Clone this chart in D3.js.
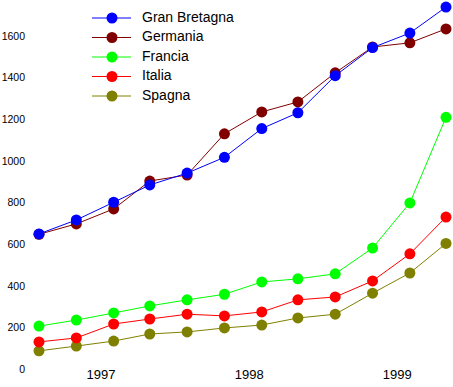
<!DOCTYPE html>
<html>
<head>
<meta charset="utf-8">
<script src="https://cdn.jsdelivr.net/npm/d3@7"></script>
<style>
  body { margin: 0; background: #fff; }
  text { font-family: Arial, "Liberation Sans", sans-serif; fill: #000; }
</style>
</head>
<body>
<div class="chart"></div>
<script>
// quarterly points, first one Aug 1996
const dates = ['1996-08-01', '1996-11-01', '1997-02-01', '1997-05-01', '1997-08-01', '1997-11-01',
               '1998-02-01', '1998-05-01', '1998-08-01', '1998-11-01', '1999-02-01', '1999-05-01'];
const yearTicks = ['1997-01-01', '1998-01-01', '1999-01-01'];
const yTicks = [0, 200, 400, 600, 800, 1000, 1200, 1400, 1600];

const seriesNames = ['Gran Bretagna', 'Germania', 'Francia', 'Italia', 'Spagna'];
const seriesColors = ['#0000ff', '#800000', '#00ff00', '#ff0000', '#808000'];

const granBretagna = [654, 721, 806, 889, 946, 1022, 1160, 1236, 1414, 1549, 1619, 1744];
const germania = [652, 702, 774, 908, 937, 1135, 1240, 1288, 1428, 1552, 1572, 1639];
const francia = [211, 240, 274, 308, 337, 364, 423, 438, 462, 586, 803, 1214];
const italia = [135, 154, 221, 245, 268, 260, 279, 337, 351, 428, 558, 735];
const spagna = [92, 115, 139, 173, 183, 202, 216, 250, 268, 369, 466, 608];

const seriesValues = [granBretagna, germania, francia, italia, spagna];

const parse = d3.timeParse('%Y-%m-%d');

const svg = d3.select('.chart')
    .append('svg')
    .attr('width', 453)
    .attr('height', 387);

const x = d3.scaleTime()
    .domain([parse(dates[0]), parse(dates[dates.length - 1])])
    .range([39, 446]);

const y = d3.scaleLinear()
    .domain([0, 1600])
    .range([370, 37]);

// y tick labels, no axis line
svg.append('g')
    .selectAll('text')
    .data(yTicks)
    .join('text')
    .attr('x', 25)
    .attr('y', d => y(d))
    .attr('text-anchor', 'end')
    .attr('dominant-baseline', 'middle')
    .style('font-size', '10.5px')
    .text(d => d);

// year labels
svg.append('g')
    .selectAll('text')
    .data(yearTicks)
    .join('text')
    .attr('x', d => x(parse(d)))
    .attr('y', 376)
    .attr('text-anchor', 'middle')
    .attr('dominant-baseline', 'middle')
    .style('font-size', '13px')
    .text(d => d.slice(0, 4));

const line = d3.line()
    .x((d, i) => x(parse(dates[i])))
    .y(d => y(d));

// draw last series first so Gran Bretagna ends up on top
const order = d3.range(seriesNames.length).reverse();

order.forEach(k => {
    const g = svg.append('g');
    g.append('path')
        .attr('d', line(seriesValues[k]))
        .attr('fill', 'none')
        .attr('stroke', seriesColors[k])
        .attr('stroke-width', 1);
    g.selectAll('circle')
        .data(seriesValues[k])
        .join('circle')
        .attr('cx', (d, i) => x(parse(dates[i])))
        .attr('cy', d => y(d))
        .attr('r', 5.5)
        .attr('fill', seriesColors[k]);
});

// legend
const legend = svg.append('g');
seriesNames.forEach((name, k) => {
    const ly = 18 + k * 19.5;
    legend.append('line')
        .attr('x1', 92)
        .attr('x2', 131)
        .attr('y1', ly)
        .attr('y2', ly)
        .attr('stroke', seriesColors[k])
        .attr('stroke-width', 1);
    legend.append('circle')
        .attr('cx', 112)
        .attr('cy', ly)
        .attr('r', 5.5)
        .attr('fill', seriesColors[k]);
    legend.append('text')
        .attr('x', 142)
        .attr('y', ly)
        .attr('dominant-baseline', 'middle')
        .style('font-size', '14px')
        .text(name);
});
</script>
</body>
</html>
